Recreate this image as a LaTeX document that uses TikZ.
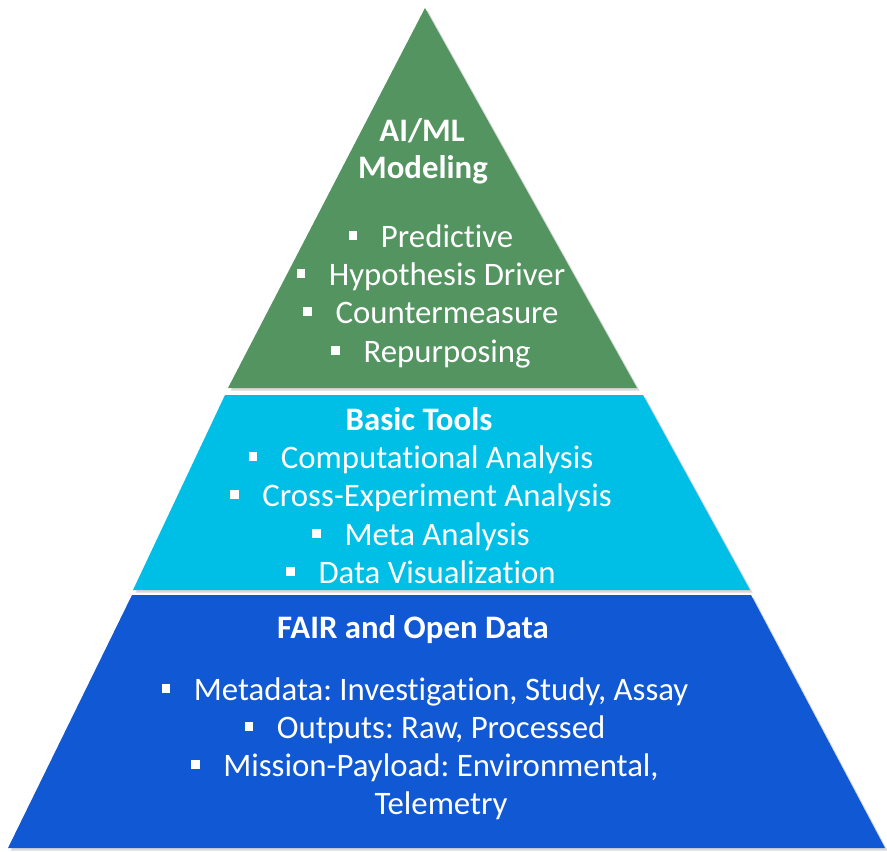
\documentclass[tikz,border=0pt]{standalone}
\usepackage{fontspec}
\setmainfont{Carlito}[Ligatures=NoCommon]
\usepackage{xcolor}
\usepackage{tikz}
\usetikzlibrary{shadows}
\definecolor{tiergreen}{RGB}{84,148,97}
\definecolor{tiercyan}{RGB}{0,191,230}
\definecolor{tierblue}{RGB}{17,88,212}
\newcommand{\bul}{\raisebox{0.22em}{\rule{0.26em}{0.26em}}\hspace{0.72em}}
\frenchspacing

\begin{document}
\begin{tikzpicture}[x=0.75pt, y=-0.75pt,
    tiershade/.style={drop shadow={opacity=0.3, shadow xshift=2pt, shadow yshift=-2pt}},
    tierline/.style={white, anchor=base, inner sep=0pt, font=\fontsize{24.6}{29}\selectfont},
    tierhead/.style={tierline, font=\fontsize{24.6}{29}\selectfont\bfseries}]
  \useasboundingbox (0,0) rectangle (887,851);
  % tiers, bottom up
  \fill[tierblue, tiershade] (132,595) -- (751,595) -- (885,848) -- (8,848) -- cycle;
  \fill[tiercyan, tiershade] (225,395) -- (643,395) -- (750,590) -- (133,590) -- cycle;
  \fill[tiergreen, tiershade] (425,8) -- (637,388) -- (228,388) -- cycle;
  % top tier
  \node[tierhead] (aiml) at (422,141) {AI/ML};
  \node[tierhead] (modeling) at (423,178) {Modeling};
  \node[tierline] (predictive) at (431,247) {\bul Predictive};
  \node[tierline] (hypothesis) at (431,285) {\bul Hypothesis Driver};
  \node[tierline] (counter) at (431,323) {\bul Countermeasure};
  \node[tierline] (repurpose) at (431,362) {\bul Repurposing};
  % middle tier
  \node[tierhead] (basic) at (419,430) {Basic Tools};
  \node[tierline] (computational) at (421,468) {\bul Computational Analysis};
  \node[tierline] (crossexp) at (421,506) {\bul Cross-Experiment Analysis};
  \node[tierline] (meta) at (421,545) {\bul Meta Analysis};
  \node[tierline] (visual) at (421,583) {\bul Data Visualization};
  % bottom tier
  \node[tierhead] (fair) at (413,638) {FAIR and Open Data};
  \node[tierline] (metadata) at (425,700) {\bul Metadata: Investigation, Study, Assay};
  \node[tierline] (outputs) at (425,738) {\bul Outputs: Raw, Processed};
  \node[tierline] (mission) at (425,776) {\bul Mission-Payload: Environmental,};
  \node[tierline] (telemetry) at (441,814) {Telemetry};
\end{tikzpicture}
\end{document}
